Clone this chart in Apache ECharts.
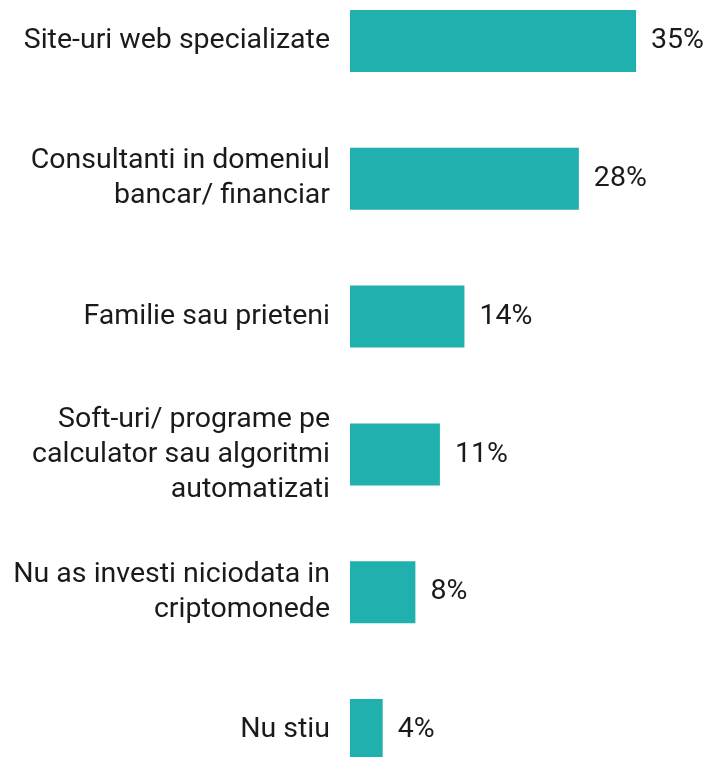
<!DOCTYPE html>
<html>
<head>
<meta charset="utf-8">
<script src="https://cdn.jsdelivr.net/npm/echarts@6/dist/echarts.min.js"></script>
<style>
  html, body { margin: 0; padding: 0; background: #fff; }
  #chart { width: 708px; height: 757px; }
</style>
</head>
<body>
<div id="chart"></div>
<script>
const categories = [
  'Site-uri web specializate',
  'Consultanti in domeniul\nbancar/ financiar',
  'Familie sau prieteni',
  'Soft-uri/ programe pe\ncalculator sau algoritmi\nautomatizati',
  'Nu as investi niciodata in\ncriptomonede',
  'Nu stiu'
]
const values = [35, 28, 14, 11, 8, 4]

const chart = echarts.init(document.getElementById('chart'))
chart.setOption({
  animation: false,
  textStyle: { fontFamily: 'Roboto' },
  // category axis without boundary gap: first/last bar centres sit on the grid edges
  grid: { left: 350, right: 0, top: 41, height: 689 },
  xAxis: {
    type: 'value',
    min: 0,
    max: 43.8,
    show: false
  },
  yAxis: {
    type: 'category',
    inverse: true,
    boundaryGap: false,
    data: categories,
    axisLine: { show: false },
    axisTick: { show: false },
    axisLabel: {
      margin: 20,
      fontSize: 28.5,
      lineHeight: 35,
      color: '#1a1a1a',
      align: 'right'
    }
  },
  series: [
    {
      type: 'bar',
      data: values,
      barWidth: 62,
      itemStyle: { color: '#20b0ae' },
      label: {
        show: true,
        position: 'right',
        distance: 15,
        fontSize: 28.5,
        color: '#1a1a1a',
        formatter: p => p.value + '%'
      }
    }
  ]
})
</script>
</body>
</html>
